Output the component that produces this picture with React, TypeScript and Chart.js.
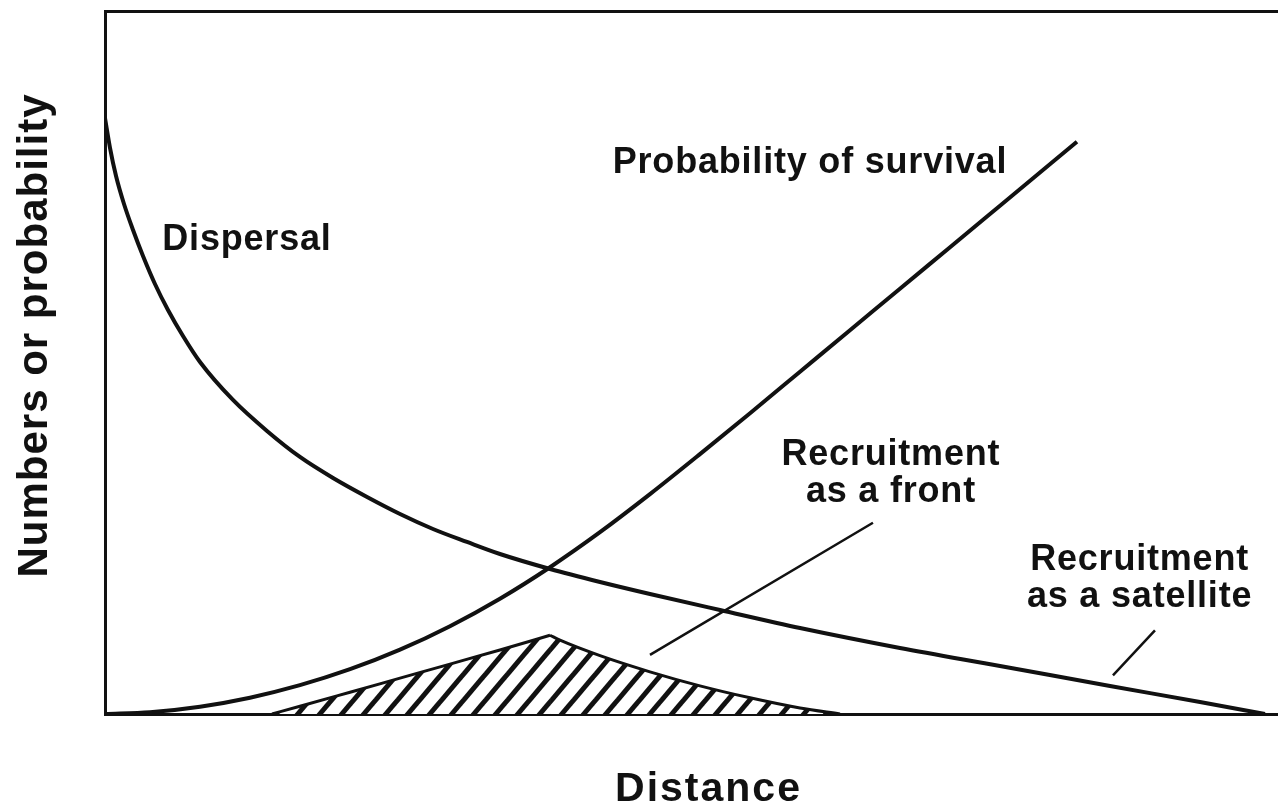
import React, { useEffect, useRef } from "react";
import { Chart, registerables } from "chart.js";

Chart.register(...registerables);

// Distance (0-100) and value (0-100)
const dispersalX = [0, 0.43, 0.94, 1.62, 2.39, 3.24, 4.26, 5.37, 6.65, 8.1, 10.91, 13.81, 16.62, 19.44, 22.34, 25.15, 27.96, 30.86, 33.67, 37.94, 42.2, 46.46, 52.43, 59.25, 67.77, 76.3, 85.68, 93.35, 98.89];
const dispersalY = [84.78, 80.51, 76.53, 72.55, 68.85, 65.15, 61.17, 57.47, 53.77, 50.07, 44.67, 40.26, 36.56, 33.57, 30.87, 28.45, 26.32, 24.47, 22.76, 20.63, 18.78, 17.07, 14.79, 12.23, 9.39, 6.83, 3.98, 1.71, 0];

const survivalX = [0, 3.84, 8.1, 12.36, 16.62, 20.89, 25.15, 29.41, 33.67, 37.94, 42.2, 46.46, 50.72, 54.99, 59.25, 63.51, 67.77, 72.04, 76.3, 82.86];
const survivalY = [0, 0.26, 1.04, 2.32, 4.1, 6.37, 9.15, 12.49, 16.4, 20.88, 25.86, 31.27, 36.96, 42.79, 48.69, 54.59, 60.5, 66.4, 72.3, 81.39];

const recruitRiseX = [14.24, 16.62, 20.89, 25.15, 29.41, 33.67, 37.94];
const recruitRiseY = [0, 1.1, 3.1, 5.1, 7.1, 9.1, 11.2];
const recruitFallX = [37.94, 38.79, 42.2, 46.46, 50.72, 54.99, 59.25, 62.66];
const recruitFallY = [11.2, 10.5, 8.3, 6.0, 4.0, 2.3, 0.85, 0];

const frontLeaderX = [46.46, 65.47];
const frontLeaderY = [8.4, 27.2];
const satelliteLeaderX = [85.93, 89.51];
const satelliteLeaderY = [5.5, 11.9];

const labelTexts = [["Probability of survival"], ["Dispersal"], ["Recruitment", "as a front"], ["Recruitment", "as a satellite"]];
const labelX = [60.1, 12.1, 67.0, 88.2];
const labelY = [78.4, 67.4, 34.2, 19.25];

const xTitle = "Distance";
const yTitle = "Numbers or probability";

const INK = "#111111";

function pts(xs: number[], ys: number[]) {
  return xs.map((x, i) => ({ x, y: ys[i] }));
}

function makeHatch(): CanvasPattern | string {
  const p = 22;
  const h = 26;
  const c = document.createElement("canvas");
  c.width = p;
  c.height = h;
  const g = c.getContext("2d");
  if (!g) return INK;
  g.fillStyle = "#ffffff";
  g.fillRect(0, 0, p, h);
  g.strokeStyle = INK;
  g.lineWidth = 5;
  g.lineCap = "butt";
  for (let k = -1; k <= 1; k++) {
    g.beginPath();
    g.moveTo(k * p - 2, h + 2 * (h / p));
    g.lineTo(k * p + p + 2, -2 * (h / p));
    g.stroke();
  }
  const pat = g.createPattern(c, "repeat");
  return pat || INK;
}

export default function App() {
  const ref = useRef<HTMLCanvasElement | null>(null);

  useEffect(() => {
    const canvas = ref.current;
    if (!canvas) return;
    const hatch = makeHatch();

    const textPlugin = {
      id: "figText",
      afterDatasetsDraw(chart: any) {
        const ctx = chart.ctx as CanvasRenderingContext2D;
        const xs = chart.scales.x;
        const ys = chart.scales.y;
        const area = chart.chartArea;
        ctx.save();
        ctx.fillStyle = INK;
        ctx.textAlign = "center";
        ctx.textBaseline = "middle";
        (ctx as any).letterSpacing = "0.8px";
        ctx.font = "bold 36px 'Liberation Sans', Arial, sans-serif";
        labelTexts.forEach((lines, i) => {
          const cx = xs.getPixelForValue(labelX[i]);
          const cy = ys.getPixelForValue(labelY[i]);
          const lh = 37;
          lines.forEach((ln, j) => {
            ctx.fillText(ln, cx, cy + (j - (lines.length - 1) / 2) * lh);
          });
        });
        // axis titles
        (ctx as any).letterSpacing = "2px";
        ctx.font = "bold 41px 'Liberation Sans', Arial, sans-serif";
        ctx.fillText(xTitle, (area.left + area.right) / 2 + 17, area.bottom + 76);
        (ctx as any).letterSpacing = "1px";
        ctx.font = "bold 42px 'Liberation Sans', Arial, sans-serif";
        ctx.translate(area.left - 70, (area.top + area.bottom) / 2 - 27);
        ctx.rotate(-Math.PI / 2);
        ctx.fillText(yTitle, 0, 0);
        ctx.restore();
      },
    };

    const lineBase = {
      showLine: true,
      pointRadius: 0,
      borderColor: INK,
      cubicInterpolationMode: "monotone" as const,
      fill: false,
    };

    const chart = new Chart(canvas, {
      type: "scatter",
      data: {
        datasets: [
          { ...lineBase, label: "Recruitment rise", data: pts(recruitRiseX, recruitRiseY), borderWidth: 3, fill: "origin", backgroundColor: hatch as any },
          { ...lineBase, label: "Recruitment fall", data: pts(recruitFallX, recruitFallY), borderWidth: 3, fill: "origin", backgroundColor: hatch as any },
          { ...lineBase, label: "Dispersal", data: pts(dispersalX, dispersalY), borderWidth: 4 },
          { ...lineBase, label: "Probability of survival", data: pts(survivalX, survivalY), borderWidth: 4 },
          { ...lineBase, label: "front leader", data: pts(frontLeaderX, frontLeaderY), borderWidth: 2.5, cubicInterpolationMode: "default" as const },
          { ...lineBase, label: "satellite leader", data: pts(satelliteLeaderX, satelliteLeaderY), borderWidth: 2.5, cubicInterpolationMode: "default" as const },
        ],
      },
      options: {
        responsive: false,
        animation: false,
        devicePixelRatio: 1,
        layout: { padding: { left: 97, top: 3, right: 0, bottom: 85 } },
        plugins: { legend: { display: false }, tooltip: { enabled: false } },
        scales: {
          x: {
            type: "linear",
            position: "bottom",
            min: 0,
            max: 100,
            ticks: { display: false },
            grid: { display: false },
            border: { display: true, color: INK, width: 3 },
          },
          xTop: {
            type: "linear",
            axis: "x",
            position: "top",
            min: 0,
            max: 100,
            ticks: { display: false },
            grid: { display: false },
            border: { display: true, color: INK, width: 3 },
          },
          y: {
            type: "linear",
            position: "left",
            min: 0,
            max: 100,
            ticks: { display: false },
            grid: { display: false },
            border: { display: true, color: INK, width: 3 },
          },
        },
      } as any,
      plugins: [textPlugin],
    });
    return () => chart.destroy();
  }, []);

  return (
    <div style={{ position: "fixed", left: 0, top: 0, width: 1278, height: 807, background: "#ffffff" }}>
      <canvas ref={ref} width={1278} height={807} style={{ display: "block", width: 1278, height: 807 }} />
    </div>
  );
}
